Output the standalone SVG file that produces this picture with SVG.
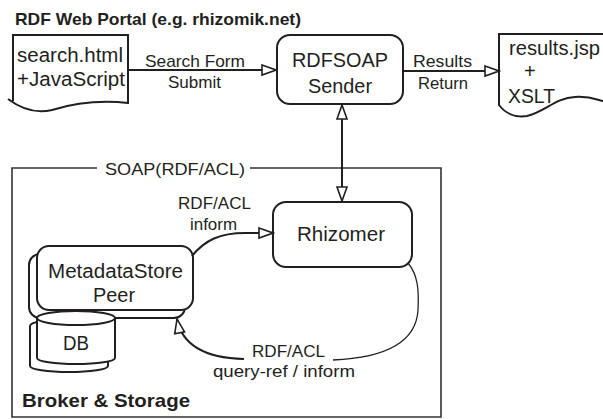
<svg xmlns="http://www.w3.org/2000/svg" width="603" height="419" viewBox="0 0 603 419">
  <style>
    text { font-family: "Liberation Sans", Arial, sans-serif; fill: #231f20; }
    .title { font-size: 17px; font-weight: bold; }
    .node { font-size: 20px; }
    .lbl { font-size: 17px; }
    .box { fill: #fff; stroke: #231f20; stroke-width: 2; }
    .thin { fill: none; stroke: #231f20; stroke-width: 1.3; }
    .conn { fill: none; stroke: #231f20; stroke-width: 2; }
    .frame { fill: none; stroke: #333; stroke-width: 1.6; }
  </style>
  <defs>
    <marker id="tri" markerUnits="userSpaceOnUse" markerWidth="18" markerHeight="14" viewBox="0 0 18 14" refX="16" refY="7" orient="auto-start-reverse">
      <path d="M2,2 L16,7 L2,12 Z" fill="#fff" stroke="#231f20" stroke-width="1.6"/>
    </marker>
  </defs>

  <rect width="603" height="419" fill="#fff"/>

  <text class="title" x="15" y="25" textLength="286" lengthAdjust="spacingAndGlyphs">RDF Web Portal (e.g. rhizomik.net)</text>

  <!-- Broker & Storage frame, top edge broken by its label -->
  <g id="broker">
    <path class="frame" d="M97,168 H12 V417 H441 V168 H250"/>
    <text class="lbl" x="105" y="175" textLength="140" lengthAdjust="spacingAndGlyphs">SOAP(RDF/ACL)</text>
    <text class="title" x="22" y="407" style="font-size:19px" textLength="168" lengthAdjust="spacingAndGlyphs">Broker &amp; Storage</text>
  </g>

  <g id="search">
    <path class="box" d="M8,99 C20,108 35,114 52,110 C75,103 100,100 128,103 V35 H13 V101"/>
    <text class="node" x="17" y="62" textLength="106" lengthAdjust="spacingAndGlyphs">search.html</text>
    <text class="node" x="17" y="86" textLength="108" lengthAdjust="spacingAndGlyphs">+JavaScript</text>
  </g>

  <g id="sender">
    <rect class="box" x="277" y="35" width="126" height="69" rx="13"/>
    <text class="node" x="292" y="67" textLength="96" lengthAdjust="spacingAndGlyphs">RDFSOAP</text>
    <text class="node" x="308" y="93" textLength="64" lengthAdjust="spacingAndGlyphs">Sender</text>
  </g>

  <g id="results">
    <path class="box" d="M603,34 H499 V105 C505,113 515,118 527,116 C545,112 555,98 575,97 C590,96 598,100 603,101"/>
    <text class="node" x="509" y="55" textLength="91" lengthAdjust="spacingAndGlyphs">results.jsp</text>
    <text class="node" x="524" y="78">+</text>
    <text class="node" x="508" y="103" textLength="47" lengthAdjust="spacingAndGlyphs">XSLT</text>
  </g>

  <g id="rhizomer">
    <rect class="box" x="273" y="202" width="139" height="65" rx="13"/>
    <text class="node" x="297" y="241" textLength="88" lengthAdjust="spacingAndGlyphs">Rhizomer</text>
  </g>

  <g id="metadatastore">
    <rect class="box" x="29" y="254" width="156" height="64" rx="11"/>
    <rect class="box" x="37" y="246" width="156" height="64" rx="12"/>
    <text class="node" x="48" y="278" textLength="135" lengthAdjust="spacingAndGlyphs">MetadataStore</text>
    <text class="node" x="93" y="302" textLength="42" lengthAdjust="spacingAndGlyphs">Peer</text>
  </g>

  <g id="db">
    <path class="box" d="M30,326 V366 A39,6 0 0 0 108,366 V326 A39,7 0 0 0 30,326 Z"/>
    <path class="box" d="M37,318 V358 A39,6 0 0 0 115,358 V318 A39,7 0 0 0 37,318 Z"/>
    <path class="box" d="M37,318 A39,7 0 0 0 115,318"/>
    <text class="node" x="63" y="350" textLength="26" lengthAdjust="spacingAndGlyphs">DB</text>
  </g>

  <g id="connectors">
    <line class="conn" x1="128" y1="70" x2="276" y2="70" marker-end="url(#tri)"/>
    <line class="conn" x1="403" y1="71" x2="499" y2="71" marker-end="url(#tri)"/>
    <line class="conn" x1="342" y1="105" x2="342" y2="201" marker-start="url(#tri)" marker-end="url(#tri)"/>
    <path class="conn" d="M192,256 C205,240 220,233 245,233 L273,233" marker-end="url(#tri)"/>
    <path class="thin" d="M408,263 C418,275 419,290 418,310 C416,345 380,358 333,360"/>
    <path class="conn" d="M244,359 C205,358 182,345 177,319" marker-end="url(#tri)"/>
    <text class="lbl" x="145" y="67" textLength="100" lengthAdjust="spacingAndGlyphs">Search Form</text>
    <text class="lbl" x="168" y="88" textLength="53" lengthAdjust="spacingAndGlyphs">Submit</text>
    <text class="lbl" x="413" y="67" textLength="59" lengthAdjust="spacingAndGlyphs">Results</text>
    <text class="lbl" x="418" y="89" textLength="50" lengthAdjust="spacingAndGlyphs">Return</text>
    <text class="lbl" x="178" y="209" textLength="73" lengthAdjust="spacingAndGlyphs">RDF/ACL</text>
    <text class="lbl" x="190" y="230" textLength="47" lengthAdjust="spacingAndGlyphs">inform</text>
    <text class="lbl" x="252" y="357" textLength="73" lengthAdjust="spacingAndGlyphs">RDF/ACL</text>
    <text class="lbl" x="213" y="377" textLength="142" lengthAdjust="spacingAndGlyphs">query-ref / inform</text>
  </g>
</svg>
